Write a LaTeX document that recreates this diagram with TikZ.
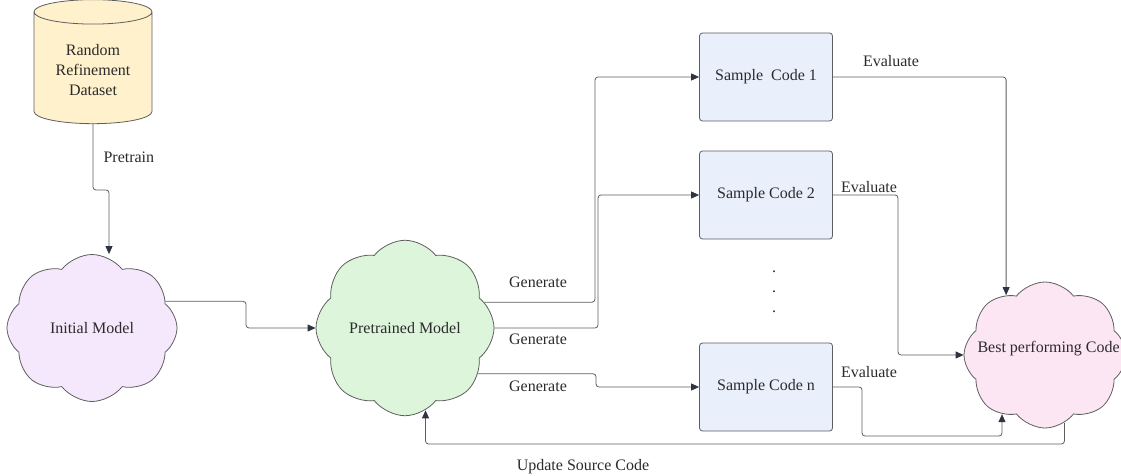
\documentclass[tikz,border=0pt]{standalone}
\usepackage{fontspec}
\setmainfont{Liberation Serif}
\usetikzlibrary{arrows.meta,shapes.geometric,shapes.symbols}
\definecolor{linegray}{HTML}{5E5E5E}
\definecolor{tipgray}{HTML}{2E3440}
\definecolor{inkgray}{HTML}{2B2B2B}
\definecolor{datayellow}{HTML}{FFF1CC}
\definecolor{initpurple}{HTML}{F6E8FC}
\definecolor{pretrgreen}{HTML}{DDF5DB}
\definecolor{bestpink}{HTML}{FDE6F3}
\definecolor{boxblue}{HTML}{E9F0FC}

\begin{document}
\begin{tikzpicture}[x=1pt, y=-1pt,
	every node/.style={font=\fontsize{16}{20}\selectfont, text=inkgray},
	line/.style={draw=linegray, line width=0.8pt, rounded corners=3pt},
	arr/.style={line, -{Triangle[length=8pt,width=7pt,color=tipgray]}},
	puff/.style={cloud, cloud puffs=8, cloud puff arc=105, draw=linegray, line width=0.8pt, inner sep=0pt},
	sample/.style={rectangle, rounded corners=3pt, draw=linegray, fill=boxblue, line width=0.8pt, minimum width=133pt, minimum height=88pt}]
			%%%%% START %%%%%
			
			\useasboundingbox (0,0) rectangle (1121,476);
			\clip (0,0) rectangle (1121,476);
			
			\node[cylinder, shape border rotate=90, aspect=0.3, draw=linegray, fill=datayellow, line width=0.8pt, minimum width=118pt, minimum height=124pt, align=center] (data) at (93,70) {Random\\Refinement\\Dataset};
			
			\node[puff, fill=initpurple, minimum width=170pt, minimum height=147pt] (init) at (92,328) {Initial Model};
			\node[puff, fill=pretrgreen, minimum width=178pt, minimum height=149pt] (pretr) at (405,328) {Pretrained Model};
			\node[puff, fill=bestpink, minimum width=162pt, minimum height=146pt] (best) at (1045,355) {};
			\node[anchor=west] (besttxt) at (974,349) {Best performing Code};
			
			\node[sample] (s1) at (766,77) {Sample~ Code 1};
			\node[sample] (s2) at (766,195) {Sample Code 2};
			\node[sample] (sn) at (766,387) {Sample Code n};
			\node[align=center] (dots) at (774,292) {.\\.\\.};
			
			\draw[arr] (data.south) -- (data.south |- 0,190) -| ([xshift=17pt]init.north);
			\node[anchor=west] (pretrainlbl) at (100,157) {Pretrain};
			
			\draw[arr] (init.20) -| (246,310) |- (pretr.west);
			
			\draw[arr] (pretr.18) -| (595,200) |- (s1.west);
			\draw[arr] (pretr.east) -| (598,260) |- (s2.west);
			\draw[arr] (pretr.328) -| (596,380) |- (sn.west);
			\node (gen1) at (538,282) {Generate};
			\node (gen2) at (538,339) {Generate};
			\node (gen3) at (538,386) {Generate};
			
			\draw[arr] (s1.east) -| (best.123);
			\draw[arr] (s2.east) -| (898,280) |- (best.west);
			\draw[arr] (sn.east) -| (862,420) |- (best.234 |- 0,436) -- (best.234);
			\node (eval1) at (891,61) {Evaluate};
			\node (eval2) at (869,187) {Evaluate};
			\node (evaln) at (869,372) {Evaluate};
			
			\draw[arr] (best.286) |- (pretr.284 |- 0,444) -- (pretr.284);
			\node (updlbl) at (583,467) {Update Source Code};
			
			%%%%% END %%%%%
\end{tikzpicture}
\end{document}
